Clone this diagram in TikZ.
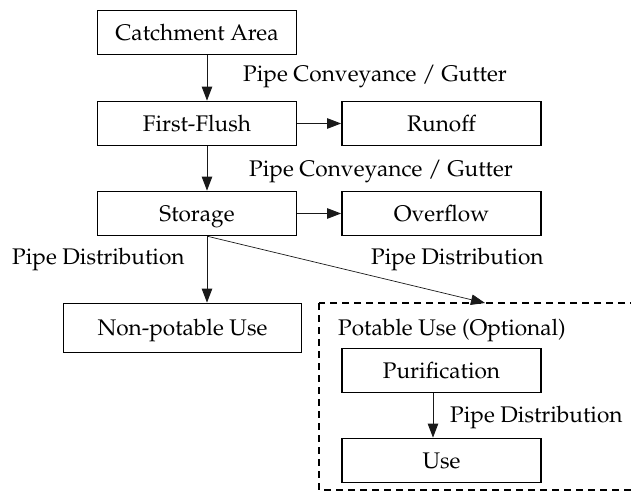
\documentclass[tikz,border=0pt]{standalone}
\usepackage[T1]{fontenc}
\usepackage{mathpazo}
\usetikzlibrary{arrows.meta}

\tikzset{
  stagebox/.style={draw=black, line width=1.8pt, rectangle,
    minimum width=199pt, minimum height=44pt, inner sep=0pt,
    text height=15.5pt, text depth=0pt},
  flowlabel/.style={inner sep=0pt, anchor=base west},
  arr/.style={draw=black!90, line width=0.9pt,
    -{Triangle[length=14pt,width=10.5pt]}},
  optgroup/.style={draw=black, line width=1.4pt, dash pattern=on 7pt off 5pt},
}

\begin{document}
\begin{tikzpicture}[x=1pt, y=-1pt, font=\fontsize{22.6}{27}\selectfont]
\useasboundingbox (0,0) rectangle (631,493);
\clip (0,0) rectangle (631,493);

% main chain
\node[stagebox] (catch)   at (197,32.5)  {Catchment Area};
\node[stagebox] (flush)   at (197,123.5) {First-Flush};
\node[stagebox] (storage) at (197,213.5) {Storage};

% side outlets
\node[stagebox] (runoff)   at (441.5,123.5) {Runoff};
\node[stagebox] (overflow) at (441.5,213.5) {Overflow};

% non-potable branch
\node[stagebox, minimum width=238pt, minimum height=49pt] (nonpot) at (182.5,328) {Non-potable Use};

% optional potable branch
\draw[optgroup] (319,303) rectangle (651,490);
\coordinate (optop) at (485,303);
\node[flowlabel] (optlabel) at (338,335) {Potable Use (Optional)};
\node[stagebox] (purif) at (441.5,370.5) {Purification};
\node[stagebox] (use)   at (441.5,460.5) {Use};

% connectors
\draw[arr] ([xshift=10pt]catch.south) -- ([xshift=10pt]flush.north);
\draw[arr] ([xshift=10pt]flush.south) -- ([xshift=10pt]storage.north);
\draw[arr] (flush.east) -- (runoff.west);
\draw[arr] (storage.east) -- (overflow.west);
\draw[arr] ([xshift=10pt]storage.south) -- ([xshift=24.5pt]nonpot.north);
\draw[arr, line width=0.7pt] ([xshift=11pt]storage.south) -- (optop);
\draw[arr] ([xshift=-8.5pt]purif.south) -- ([xshift=-8.5pt]use.north);

% connector labels
\node[flowlabel] (l1) at (243,81)  {Pipe Conveyance / Gutter};
\node[flowlabel] (l2) at (249,176) {Pipe Conveyance / Gutter};
\node[flowlabel] (l3) at (12,264)  {Pipe Distribution};
\node[flowlabel] (l4) at (371,264) {Pipe Distribution};
\node[flowlabel] (l5) at (450,422) {Pipe Distribution};
\end{tikzpicture}
\end{document}
